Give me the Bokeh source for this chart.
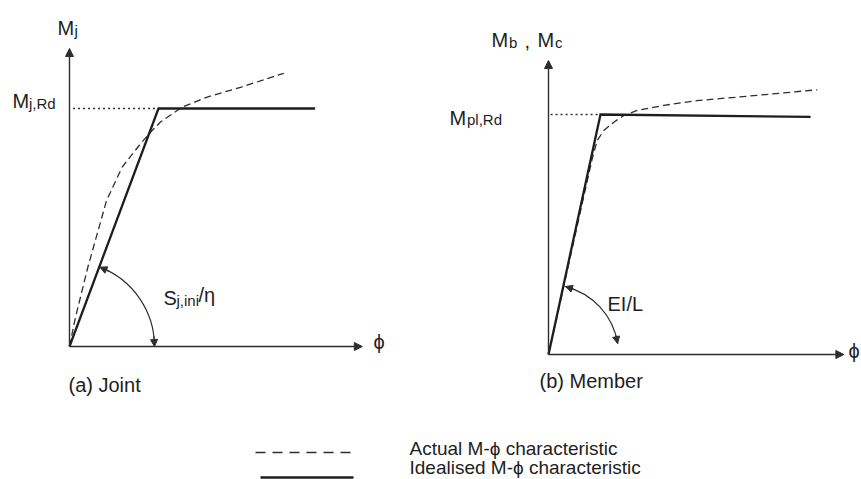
import math
from bokeh.plotting import figure
from bokeh.models import Range1d, Arrow, NormalHead
from bokeh.core.properties import value
from bokeh.embed import file_html
from bokeh.resources import INLINE

# ---------------- data (normalised: phi / phi_knee, M / M_Rd) ----------------
# (a) Joint
joint_ideal_phi = [0.0, 1.0, 2.76]
joint_ideal_m = [0.0, 1.0, 1.0]
joint_actual_phi = [0.0, 0.067, 0.206, 0.311, 0.416, 0.592, 0.798, 0.910, 1.022, 1.266, 1.547, 1.921, 2.408]
joint_actual_m = [0.0, 0.122, 0.333, 0.473, 0.613, 0.754, 0.852, 0.900, 0.943, 1.006, 1.048, 1.089, 1.148]
joint_rd_phi = [0.04, 1.0]
joint_rd_m = [1.0, 1.0]
joint_axis_phi_max = 3.29
joint_axis_m_max = 1.252

# (b) Member
member_ideal_phi = [0.0, 1.0, 5.04]
member_ideal_m = [0.0, 1.0, 0.99]
member_actual_phi = [0.0, 0.840, 0.937, 1.063, 1.256, 1.448, 1.706, 2.217, 2.860, 3.821, 5.167]
member_actual_m = [0.0, 0.815, 0.892, 0.933, 0.968, 0.996, 1.017, 1.038, 1.058, 1.076, 1.103]
member_rd_phi = [0.04, 1.0]
member_rd_m = [1.0, 1.0]
member_axis_phi_max = 5.68
member_axis_m_max = 1.225

# texts
PHI = "\u03d5"
F, S, L = "20px", "15px", "19px"
labels = [
    ("M", 57, 27, F), ("j", 74, 30, S),
    ("M", 12, 100, F), ("j,Rd", 28.5, 103, S),
    ("S", 163, 297, F), ("j,ini", 176, 300, S), ("/\u03b7", 198, 294, F),
    (PHI, 373, 341, F),
    ("(a) Joint", 68, 384, F),
    ("M", 491, 39, F), ("b", 508.5, 42, S), (",", 524, 40, F), ("M", 537, 39, F), ("c", 554.5, 42, S),
    ("M", 449, 117, F), ("pl,Rd", 466.5, 119, S),
    ("EI/L", 607, 303, F),
    (PHI, 848, 350, F),
    ("(b) Member", 539, 380, F),
    ("Actual M-" + PHI + " characteristic", 409, 448, L),
    ("Idealised M-" + PHI + " characteristic", 409, 467, L),
]

# ---------------- layout (pixel frame of the page) ----------------
W, H = 861, 479
PX0, PY0 = 0, 0
panels = {
    "a": dict(ox=69, oy=346, sx=89.0, sy=238.0, r=85, th0=0.0, th1=69.0),
    "b": dict(ox=548, oy=354, sx=52.0, sy=240.0, r=70, th0=9.0, th1=76.0),
}
INK = "#1e1e1e"
AX = "#2e2e2e"

p = figure(width=W, height=H, output_backend="svg", toolbar_location=None,
           x_range=Range1d(PX0, PX0 + W), y_range=Range1d(PY0 + H, PY0),
           x_axis_type=None, y_axis_type=None, min_border=0,
           outline_line_color=None, background_fill_color="white",
           border_fill_color="white")
p.grid.visible = False

for k, d in panels.items():
    p.extra_x_ranges[k + "x"] = Range1d((PX0 - d["ox"]) / d["sx"], (PX0 + W - d["ox"]) / d["sx"])
    p.extra_y_ranges[k + "y"] = Range1d((d["oy"] - (PY0 + H)) / d["sy"], (d["oy"] - PY0) / d["sy"])


def head(size=7):
    return NormalHead(size=size, fill_color=AX, line_color=AX, line_width=1)


def draw_panel(k, ideal_phi, ideal_m, act_phi, act_m, rd_phi, rd_m, phi_max, m_max):
    d = panels[k]
    rn = dict(x_range_name=k + "x", y_range_name=k + "y")
    # axes with arrow heads
    p.add_layout(Arrow(end=head(8), x_start=0, y_start=0, x_end=phi_max, y_end=0,
                       line_color=AX, line_width=1.4, **rn))
    p.add_layout(Arrow(end=head(8), x_start=0, y_start=0, x_end=0, y_end=m_max,
                       line_color=AX, line_width=1.4, **rn))
    # M_Rd dotted reference
    p.line(rd_phi, rd_m, line_color=AX, line_width=1.3, line_dash="2 3", **rn)
    # actual (dashed) and idealised (solid)
    p.line(act_phi, act_m, line_color=AX, line_width=1.3, line_dash="7 4", **rn)
    p.line(ideal_phi, ideal_m, line_color=INK, line_width=2.3, line_join="miter", **rn)
    # stiffness arc with arrow heads
    r = d["r"]
    t0, t1 = math.radians(d["th0"]), math.radians(d["th1"])
    p.arc(x=[0], y=[0], radius=r, radius_units="screen", start_angle=t0, end_angle=t1,
          line_color=AX, line_width=1.2, **rn)
    dt = math.radians(7)
    for a_from, a_to in ((t0 + dt, t0), (t1 - dt, t1)):
        p.add_layout(Arrow(end=head(7),
                           x_start=r * math.cos(a_from) / d["sx"], y_start=r * math.sin(a_from) / d["sy"],
                           x_end=r * math.cos(a_to) / d["sx"], y_end=r * math.sin(a_to) / d["sy"],
                           line_color=AX, line_width=1.2, **rn))


draw_panel("a", joint_ideal_phi, joint_ideal_m, joint_actual_phi, joint_actual_m,
           joint_rd_phi, joint_rd_m, joint_axis_phi_max, joint_axis_m_max)
draw_panel("b", member_ideal_phi, member_ideal_m, member_actual_phi, member_actual_m,
           member_rd_phi, member_rd_m, member_axis_phi_max, member_axis_m_max)

# legend samples (pixel frame)
p.line([255, 350], [452, 452], line_color=AX, line_width=1.6, line_dash="10 7")
p.line([260, 353], [477, 477], line_color=INK, line_width=2.4)

for t, x, y, fs in labels:
    p.text(x=[x], y=[y], text=[t], text_font=value("Liberation Sans"),
           text_font_size=value(fs), text_color=INK, text_align="left",
           text_baseline="alphabetic")

open("out.html", "w").write(file_html(p, INLINE))
